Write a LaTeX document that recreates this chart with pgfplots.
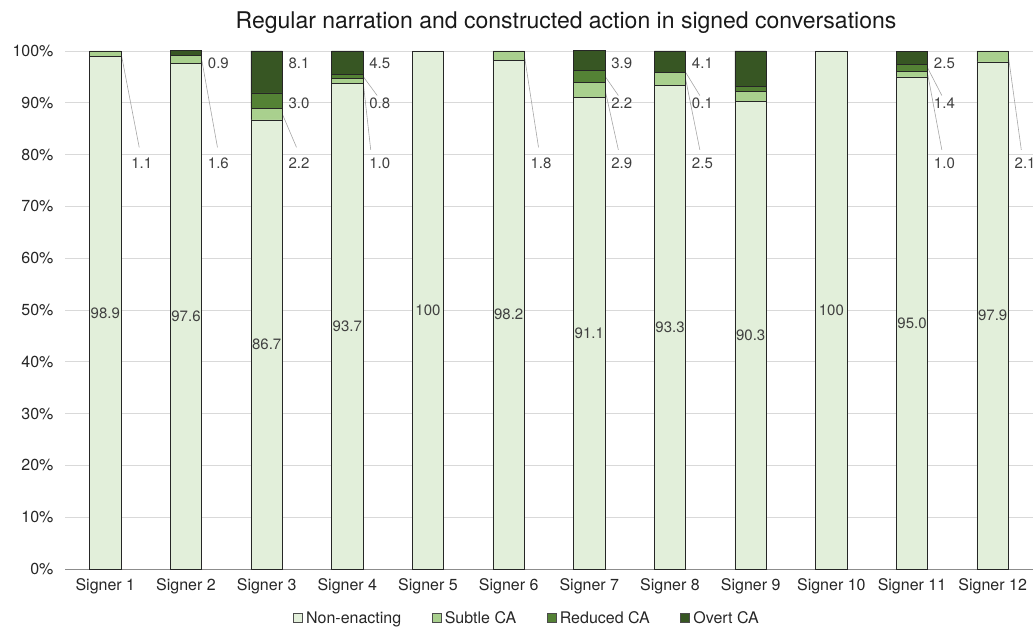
\documentclass[border=0pt]{standalone}
\usepackage{pgfplots}
\pgfplotsset{compat=1.18}
\usepackage{fontspec}
\setmainfont{TeX Gyre Heros}
\definecolor{cNon}{HTML}{E2EFDA}
\definecolor{cSub}{HTML}{A9D08E}
\definecolor{cRed}{HTML}{548235}
\definecolor{cOve}{HTML}{375623}
\definecolor{cTxt}{HTML}{404040}
\definecolor{cGrid}{HTML}{D9D9D9}
\definecolor{cLead}{HTML}{A6A6A6}
\tikzset{lab/.style={font=\fontsize{15}{18}\selectfont, text=cTxt, inner sep=0pt},
  lead/.style={draw=cLead, line width=0.6pt}}
\begin{document}
\begin{tikzpicture}
\begin{axis}[
  at={(0pt,0pt)}, anchor=south west,
  scale only axis, width=968pt, height=518pt,
  xmin=-0.5, xmax=11.5, ymin=0, ymax=100,
  enlargelimits=false, clip=false,
  ybar stacked, bar width=0.39,
  xtick={0,...,11},
  xticklabels={Signer 1,Signer 2,Signer 3,Signer 4,Signer 5,Signer 6,Signer 7,Signer 8,Signer 9,Signer 10,Signer 11,Signer 12},
  ytick={0,10,...,100},
  yticklabels={0\%,10\%,20\%,30\%,40\%,50\%,60\%,70\%,80\%,90\%,100\%},
  tick label style={font=\fontsize{16}{19}\selectfont, text=black!85},
  xticklabel style={yshift=-6pt},
  yticklabel style={xshift=-8pt},
  major tick length=0pt,
  axis line style={draw=none},
  ymajorgrids, grid style={draw=cGrid, line width=0.8pt},
  legend style={at={(0.477,-0.095)}, anchor=center, draw=none, fill=none,
    font=\fontsize{16}{19}\selectfont, text=black!85,
    /tikz/every even column/.append style={column sep=29pt},
    nodes={inner sep=1.5pt}},
  legend columns=4,
  legend cell align=left,
]
\addplot[fill=cNon, draw=black!85, line width=0.7pt,
  legend image code/.code={\draw[fill=cNon,draw=black!70,line width=0.5pt] (0pt,-4.5pt) rectangle (9pt,4.5pt);}]
  coordinates {(0,98.9) (1,97.6) (2,86.7) (3,93.7) (4,100) (5,98.2) (6,91.1) (7,93.3) (8,90.3) (9,100) (10,95.0) (11,97.9)};
\addplot[fill=cSub, draw=black!85, line width=0.7pt,
  legend image code/.code={\draw[fill=cSub,draw=black!70,line width=0.5pt] (0pt,-4.5pt) rectangle (9pt,4.5pt);}]
  coordinates {(0,1.1) (1,1.6) (2,2.2) (3,1.0) (4,0) (5,1.8) (6,2.9) (7,2.5) (8,1.9) (9,0) (10,1.0) (11,2.1)};
\addplot[fill=cRed, draw=black!85, line width=0.7pt,
  legend image code/.code={\draw[fill=cRed,draw=black!70,line width=0.5pt] (0pt,-4.5pt) rectangle (9pt,4.5pt);}]
  coordinates {(0,0) (1,0) (2,3.0) (3,0.8) (4,0) (5,0) (6,2.2) (7,0.1) (8,0.9) (9,0) (10,1.4) (11,0)};
\addplot[fill=cOve, draw=black!85, line width=0.7pt,
  legend image code/.code={\draw[fill=cOve,draw=black!70,line width=0.5pt] (0pt,-4.5pt) rectangle (9pt,4.5pt);}]
  coordinates {(0,0) (1,0.9) (2,8.1) (3,4.5) (4,0) (5,0) (6,3.9) (7,4.1) (8,6.9) (9,0) (10,2.5) (11,0)};
\legend{\hspace{2pt}Non-enacting,\hspace{2pt}Subtle CA,\hspace{2pt}Reduced CA,\hspace{2pt}Overt CA}
\draw[black!45, line width=0.8pt] (rel axis cs:0,0) -- (rel axis cs:1,0);
\coordinate (m0) at (axis cs:0,49.45);
\coordinate (m1) at (axis cs:1,48.8);
\coordinate (m2) at (axis cs:2,43.35);
\coordinate (m3) at (axis cs:3,46.85);
\coordinate (m4) at (axis cs:4,50);
\coordinate (m5) at (axis cs:5,49.1);
\coordinate (m6) at (axis cs:6,45.55);
\coordinate (m7) at (axis cs:7,46.65);
\coordinate (m8) at (axis cs:8,45.15);
\coordinate (m9) at (axis cs:9,50);
\coordinate (m10) at (axis cs:10,47.5);
\coordinate (m11) at (axis cs:11,48.95);
\draw[lead] (axis cs:0.195,99.6) -- (axis cs:0.42,81.4);
\draw[lead] (axis cs:1.195,98.3) -- (axis cs:1.39,81.4);
\draw[lead] (axis cs:2.195,87.8) -- (axis cs:2.37,81.4);
\draw[lead] (axis cs:3.195,95.1) -- (axis cs:3.37,91.4);
\draw[lead] (axis cs:3.195,94.2) -- (axis cs:3.29,80.9);
\draw[lead] (axis cs:5.195,99.1) -- (axis cs:5.37,81.4);
\draw[lead] (axis cs:6.195,95.1) -- (axis cs:6.36,91.4);
\draw[lead] (axis cs:6.195,92.5) -- (axis cs:6.36,80.9);
\draw[lead] (axis cs:7.195,95.85) -- (axis cs:7.37,91.4);
\draw[lead] (axis cs:7.195,94.5) -- (axis cs:7.37,80.9);
\draw[lead] (axis cs:10.195,96.7) -- (axis cs:10.37,91.4);
\draw[lead] (axis cs:10.195,95.5) -- (axis cs:10.37,80.9);
\draw[lead] (axis cs:11.195,98.95) -- (axis cs:11.355,80.9);
\node[lab, anchor=west] at (axis cs:0.32,78.4) {1.1};
\node[lab, anchor=west] at (axis cs:1.27,97.6) {0.9};
\node[lab, anchor=west] at (axis cs:1.27,78.4) {1.6};
\node[lab, anchor=west] at (axis cs:2.27,97.6) {8.1};
\node[lab, anchor=west] at (axis cs:2.27,89.9) {3.0};
\node[lab, anchor=west] at (axis cs:2.27,78.4) {2.2};
\node[lab, anchor=west] at (axis cs:3.27,97.6) {4.5};
\node[lab, anchor=west] at (axis cs:3.27,89.9) {0.8};
\node[lab, anchor=west] at (axis cs:3.27,78.4) {1.0};
\node[lab, anchor=west] at (axis cs:5.27,78.4) {1.8};
\node[lab, anchor=west] at (axis cs:6.27,97.6) {3.9};
\node[lab, anchor=west] at (axis cs:6.27,89.9) {2.2};
\node[lab, anchor=west] at (axis cs:6.27,78.4) {2.9};
\node[lab, anchor=west] at (axis cs:7.27,97.6) {4.1};
\node[lab, anchor=west] at (axis cs:7.27,89.9) {0.1};
\node[lab, anchor=west] at (axis cs:7.27,78.4) {2.5};
\node[lab, anchor=west] at (axis cs:10.27,97.6) {2.5};
\node[lab, anchor=west] at (axis cs:10.27,89.9) {1.4};
\node[lab, anchor=west] at (axis cs:10.27,78.4) {1.0};
\node[lab, anchor=west] at (axis cs:11.27,78.4) {2.1};
\end{axis}
\node[lab] at (m0) {98.9};
\node[lab] at (m1) {97.6};
\node[lab] at (m2) {86.7};
\node[lab] at (m3) {93.7};
\node[lab] at (m4) {100};
\node[lab] at (m5) {98.2};
\node[lab] at (m6) {91.1};
\node[lab] at (m7) {93.3};
\node[lab] at (m8) {90.3};
\node[lab] at (m9) {100};
\node[lab] at (m10) {95.0};
\node[lab] at (m11) {97.9};
\node[anchor=base, font=\fontsize{23}{27}\selectfont, text=black!90] at (501pt,540.7pt) {Regular narration and constructed action in signed conversations};
\pgfresetboundingbox
\path[use as bounding box] (-65pt,-60pt) rectangle (970pt,569pt);
\end{tikzpicture}
\end{document}
